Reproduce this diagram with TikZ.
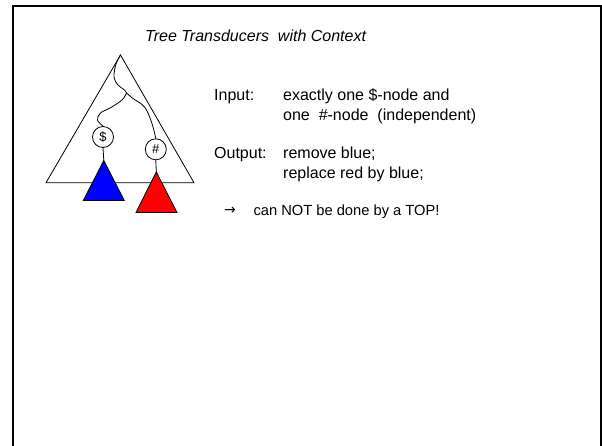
\documentclass[tikz,border=0pt]{standalone}
\usepackage{fontspec}
\setmainfont{Liberation Sans}
\newfontfamily\symfont{DejaVu Sans}
\begin{document}
\begin{tikzpicture}[x=1pt,y=-1pt,
  thinline/.style={line width=0.8pt, black},
  knot/.style={circle, draw, line width=0.8pt, minimum size=21pt, inner sep=0pt, font=\fontsize{13}{13}\selectfont},
  txt/.style={anchor=base west, inner sep=0pt, font=\fontsize{16}{19}\selectfont},
  subtree/.style={draw=black, line width=0.8pt}
]
\useasboundingbox (0,0) rectangle (602,445);
\clip (0,0) rectangle (602,445);
\fill[white] (0,0) rectangle (602,445);
% frame
\draw[line width=2pt] (13.2,6) rectangle (601,480);

% big triangle
\coordinate (top) at (120.5,55);
\coordinate (bl) at (46,182.7);
\coordinate (br) at (194,182.7);
\draw[thinline] (bl) -- (top) -- (br) -- cycle;

% inner nodes
\node[knot] (dollar) at (103,137) {\$};
\node[knot] (hash) at (155.8,149.3) {\#};

% paths
\coordinate (junc) at (126.5,93);
\draw[thinline] plot[smooth, tension=0.6] coordinates {(120.5,55) (116,64) (114,77) (118,85) (124.5,90) (junc)};
\draw[thinline] plot[smooth, tension=0.6] coordinates {(junc) (122,100) (110,108) (100.5,113) (97.5,120) (dollar.north)};
\draw[thinline] plot[smooth, tension=0.6] coordinates {(junc) (133,98.5) (144.5,107) (151.5,122) (hash.north)};

% subtrees
\coordinate (btop) at (103.8,160.5);
\coordinate (rtop) at (156.3,172);
\draw[thinline] (dollar.south) -- (btop);
\draw[thinline] (hash.south) -- (rtop);
\filldraw[subtree, fill=blue] (btop) -- (83.3,200.5) -- (124.3,200.5) -- cycle;
\filldraw[subtree, fill=red] (rtop) -- (136,212.5) -- (177,212.5) -- cycle;

% texts
\node[txt, font=\fontsize{16}{19}\selectfont\itshape] (title) at (145,41) {Tree Transducers\ \ with Context};
\node[txt] (inlab) at (214,100.7) {Input:};
\node[txt] (in1) at (283,100.7) {exactly one \$-node and};
\node[txt] (in2) at (283,120) {one\ \ \#-node\ \ (independent)};
\node[txt] (outlab) at (214,158.3) {Output:};
\node[txt] (out1) at (283,158.3) {remove blue;};
\node[txt] (out2) at (283,178.3) {replace red by blue;};
\node[txt, font=\fontsize{14}{14}\selectfont\symfont] (arr) at (224,214.5) {→};
\node[txt, font=\fontsize{14.7}{17}\selectfont] (concl) at (253.3,215.7) {can NOT be done by a TOP!};
\end{tikzpicture}
\end{document}
